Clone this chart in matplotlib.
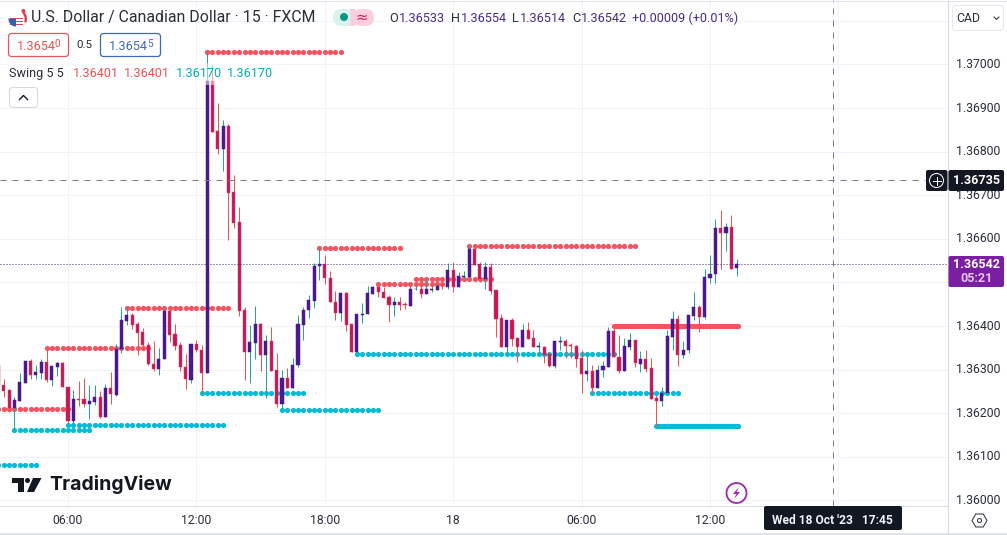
import numpy as np
import matplotlib
matplotlib.use("Agg")
import matplotlib.pyplot as plt
from matplotlib.patches import Circle, FancyBboxPatch, Polygon, Rectangle, RegularPolygon, Wedge

# USDCAD 15m, first value is bar -13, bar 0 is the 06:00 candle
first_bar = -13
opens = [1.36311, 1.36265, 1.36253, 1.36211, 1.36229, 1.36270, 1.36320, 1.36288, 1.36293, 1.36318, 1.36276, 1.36307, 1.36315,
         1.36261, 1.36182, 1.36233, 1.36232, 1.36221, 1.36226, 1.36237, 1.36192, 1.36258, 1.36243, 1.36347, 1.36412, 1.36425,
         1.36404, 1.36386, 1.36357, 1.36312, 1.36302, 1.36324, 1.36435, 1.36381, 1.36356, 1.36307, 1.36276, 1.36358, 1.36344,
         1.36293, 1.36962, 1.36847, 1.36805, 1.36859, 1.36708, 1.36638, 1.36437, 1.36341, 1.36362, 1.36405, 1.36334, 1.36365,
         1.36299, 1.36221, 1.36280, 1.36259, 1.36310, 1.36403, 1.36436, 1.36458, 1.36537, 1.36542, 1.36510, 1.36455, 1.36431,
         1.36475, 1.36404, 1.36341, 1.36425, 1.36427, 1.36474, 1.36490, 1.36478, 1.36466, 1.36449, 1.36455, 1.36450, 1.36447,
         1.36484, 1.36484, 1.36474, 1.36483, 1.36483, 1.36492, 1.36490, 1.36528, 1.36490, 1.36513, 1.36513, 1.36576, 1.36542,
         1.36507, 1.36535, 1.36482, 1.36418, 1.36353, 1.36413, 1.36372, 1.36353, 1.36390, 1.36372, 1.36352, 1.36353, 1.36335,
         1.36308, 1.36364, 1.36365, 1.36355, 1.36355, 1.36327, 1.36291, 1.36296, 1.36259, 1.36299, 1.36307, 1.36388, 1.36328,
         1.36297, 1.36353, 1.36368, 1.36314, 1.36324, 1.36303, 1.36234, 1.36229, 1.36246, 1.36376, 1.36416, 1.36334, 1.36344,
         1.36424, 1.36443, 1.36420, 1.36511, 1.36519, 1.36624, 1.36614, 1.36627, 1.36533]
highs = [1.36313, 1.36279, 1.36255, 1.36238, 1.36293, 1.36320, 1.36324, 1.36311, 1.36324, 1.36349, 1.36308, 1.36318, 1.36317,
         1.36261, 1.36253, 1.36274, 1.36282, 1.36265, 1.36265, 1.36250, 1.36267, 1.36295, 1.36359, 1.36443, 1.36443, 1.36429,
         1.36409, 1.36395, 1.36364, 1.36365, 1.36349, 1.36441, 1.36441, 1.36404, 1.36364, 1.36337, 1.36359, 1.36368, 1.36356,
         1.37028, 1.36999, 1.36912, 1.36873, 1.36864, 1.36747, 1.36674, 1.36444, 1.36402, 1.36446, 1.36408, 1.36379, 1.36399,
         1.36338, 1.36299, 1.36303, 1.36326, 1.36425, 1.36443, 1.36471, 1.36545, 1.36578, 1.36563, 1.36527, 1.36481, 1.36475,
         1.36477, 1.36404, 1.36427, 1.36452, 1.36492, 1.36492, 1.36498, 1.36490, 1.36471, 1.36467, 1.36467, 1.36456, 1.36492,
         1.36494, 1.36513, 1.36510, 1.36493, 1.36498, 1.36498, 1.36544, 1.36546, 1.36524, 1.36526, 1.36584, 1.36576, 1.36548,
         1.36546, 1.36544, 1.36482, 1.36427, 1.36413, 1.36418, 1.36376, 1.36404, 1.36409, 1.36390, 1.36364, 1.36354, 1.36341,
         1.36365, 1.36377, 1.36370, 1.36361, 1.36357, 1.36344, 1.36338, 1.36310, 1.36311, 1.36321, 1.36399, 1.36402, 1.36380,
         1.36372, 1.36383, 1.36368, 1.36343, 1.36345, 1.36326, 1.36242, 1.36261, 1.36391, 1.36435, 1.36425, 1.36366, 1.36425,
         1.36478, 1.36448, 1.36530, 1.36563, 1.36645, 1.36666, 1.36636, 1.36655, 1.36554]
lows = [1.36261, 1.36238, 1.36204, 1.36162, 1.36229, 1.36270, 1.36279, 1.36278, 1.36279, 1.36271, 1.36263, 1.36286, 1.36260,
        1.36177, 1.36178, 1.36217, 1.36214, 1.36187, 1.36219, 1.36188, 1.36192, 1.36221, 1.36240, 1.36339, 1.36403, 1.36393,
        1.36334, 1.36345, 1.36310, 1.36297, 1.36288, 1.36324, 1.36364, 1.36345, 1.36298, 1.36255, 1.36270, 1.36341, 1.36247,
        1.36293, 1.36846, 1.36795, 1.36756, 1.36597, 1.36626, 1.36423, 1.36276, 1.36270, 1.36324, 1.36298, 1.36236, 1.36298,
        1.36215, 1.36212, 1.36257, 1.36259, 1.36305, 1.36368, 1.36419, 1.36442, 1.36506, 1.36496, 1.36455, 1.36414, 1.36412,
        1.36389, 1.36341, 1.36341, 1.36406, 1.36427, 1.36474, 1.36467, 1.36464, 1.36409, 1.36423, 1.36437, 1.36439, 1.36447,
        1.36483, 1.36464, 1.36474, 1.36479, 1.36483, 1.36484, 1.36485, 1.36477, 1.36490, 1.36506, 1.36513, 1.36541, 1.36502,
        1.36485, 1.36473, 1.36374, 1.36353, 1.36341, 1.36354, 1.36318, 1.36353, 1.36370, 1.36353, 1.36339, 1.36315, 1.36307,
        1.36303, 1.36344, 1.36327, 1.36327, 1.36305, 1.36247, 1.36275, 1.36246, 1.36259, 1.36284, 1.36307, 1.36328, 1.36293,
        1.36297, 1.36344, 1.36305, 1.36295, 1.36295, 1.36233, 1.36169, 1.36217, 1.36246, 1.36344, 1.36309, 1.36327, 1.36339,
        1.36414, 1.36387, 1.36416, 1.36498, 1.36498, 1.36531, 1.36573, 1.36532, 1.36514]
closes = [1.36265, 1.36252, 1.36211, 1.36231, 1.36272, 1.36320, 1.36288, 1.36295, 1.36318, 1.36276, 1.36308, 1.36315, 1.36261,
          1.36182, 1.36232, 1.36231, 1.36221, 1.36227, 1.36237, 1.36191, 1.36258, 1.36245, 1.36347, 1.36413, 1.36425, 1.36403,
          1.36385, 1.36357, 1.36312, 1.36302, 1.36324, 1.36435, 1.36380, 1.36355, 1.36307, 1.36278, 1.36359, 1.36344, 1.36293,
          1.36962, 1.36846, 1.36805, 1.36859, 1.36706, 1.36637, 1.36435, 1.36341, 1.36363, 1.36405, 1.36334, 1.36365, 1.36298,
          1.36221, 1.36280, 1.36259, 1.36310, 1.36404, 1.36436, 1.36459, 1.36538, 1.36542, 1.36510, 1.36455, 1.36431, 1.36475,
          1.36403, 1.36341, 1.36427, 1.36427, 1.36475, 1.36490, 1.36477, 1.36464, 1.36449, 1.36455, 1.36449, 1.36448, 1.36485,
          1.36485, 1.36474, 1.36485, 1.36484, 1.36492, 1.36491, 1.36528, 1.36490, 1.36514, 1.36514, 1.36577, 1.36541, 1.36507,
          1.36536, 1.36480, 1.36417, 1.36353, 1.36413, 1.36371, 1.36353, 1.36390, 1.36371, 1.36353, 1.36353, 1.36334, 1.36308,
          1.36365, 1.36365, 1.36355, 1.36354, 1.36325, 1.36291, 1.36296, 1.36259, 1.36299, 1.36308, 1.36388, 1.36328, 1.36298,
          1.36354, 1.36368, 1.36315, 1.36324, 1.36302, 1.36233, 1.36229, 1.36246, 1.36377, 1.36416, 1.36334, 1.36344, 1.36425,
          1.36443, 1.36420, 1.36512, 1.36519, 1.36624, 1.36614, 1.36627, 1.36532, 1.36542]

# swing levels: price, first bar, last bar
swing_high_levels = [1.36209, 1.36349, 1.36441, 1.37028, 1.36578, 1.36497, 1.36507, 1.36584]
swing_high_start = [-13, -4, 11, 26, 47, 58, 65, 75]
swing_high_end = [0, 15, 30, 51, 62, 70, 79, 106]
swing_low_levels = [1.36081, 1.36161, 1.36172, 1.36246, 1.36207, 1.36335, 1.36246]
swing_low_start = [-13, -10, 0, 25, 40, 54, 98]
swing_low_end = [-6, 4, 29, 44, 58, 102, 114]
# last levels still running, drawn almost solid
live_high = (1.36401, 102, 125)
live_low = (1.36170, 110, 125)

price_ticks = [1.36, 1.361, 1.362, 1.363, 1.364, 1.365, 1.366, 1.367, 1.368, 1.369, 1.37, 1.371]
price_labels = {1.36: "1.36000", 1.361: "1.36100", 1.362: "1.36200", 1.363: "1.36300", 1.364: "1.36400",
                1.366: "1.36600", 1.367: "1.36700", 1.368: "1.36800", 1.369: "1.36900", 1.37: "1.37000"}
time_ticks = [0, 24, 48, 72, 96, 120, 144]
time_labels = ["06:00", "12:00", "18:00", "18", "06:00", "12:00"]
last_price = 1.36542
cross_price = 1.36735
cross_bar = 143

UP = "#4a1a8c"
DOWN = "#c2185b"
WICK_UP = "#26a69a"
WICK_DOWN = "#ef5350"
RED = "#f7525f"
TEAL = "#00bcd4"
GRID = "#f0f3fa"
LINE = "#d6dae2"
DARK = "#131722"
FONT = "Roboto"
PX = 0.72  # one pixel line

plt.rcParams["font.family"] = FONT

fig = plt.figure(figsize=(10.07, 5.35), dpi=100)
W, H = 1007.0, 535.0
ax = fig.add_axes([0, 1 - 506 / H, 947.5 / W, 506 / H])
ax.set_xlim(-12.71, 164.4)
ax.set_ylim(1.359873, 1.371479)
for side in ax.spines:
    ax.spines[side].set_visible(False)
ax.set_xticks([])
ax.set_yticks([])

for p in price_ticks:
    ax.axhline(p, color=GRID, lw=PX, zorder=0)
for t in time_ticks:
    ax.axvline(t, color=GRID, lw=PX, zorder=0)

# swing dots
for level, a, b in zip(swing_high_levels, swing_high_start, swing_high_end):
    xs = np.arange(a, b + 1)
    ax.scatter(xs, [level] * len(xs), s=14, color=RED, lw=0, zorder=2)
for level, a, b in zip(swing_low_levels, swing_low_start, swing_low_end):
    xs = np.arange(a, b + 1)
    ax.scatter(xs, [level] * len(xs), s=14, color=TEAL, lw=0, zorder=2)
for (level, a, b), color in ((live_high, RED), (live_low, TEAL)):
    xs = np.arange(a, b + 0.5, 0.25)
    ax.scatter(xs, [level] * len(xs), s=14, color=color, lw=0, zorder=2)

# candles
bars = np.arange(first_bar, first_bar + len(closes))
for i, o, h, l, c in zip(bars, opens, highs, lows, closes):
    rising = c >= o
    ax.vlines(i, l, h, color=WICK_UP if rising else WICK_DOWN, lw=PX, zorder=3)
    ax.bar(i, max(abs(c - o), 0.00002), bottom=min(o, c), width=0.58,
           color=UP if rising else DOWN, edgecolor=UP if rising else "#e0405f", lw=0.35, zorder=4)

ax.axhline(last_price, color="#3d2b6b", lw=PX, ls=(0, (1, 2)), zorder=5)
ax.plot([-12.71, 160.2], [cross_price, cross_price], color="#787b86", lw=PX, ls=(0, (6, 6)), zorder=5)
ax.axvline(cross_bar, color="#787b86", lw=PX, ls=(0, (6, 6)), zorder=5)

# everything around the plot in pixel coordinates
ui = fig.add_axes([0, 0, 1, 1], zorder=10)
ui.set_xlim(0, W)
ui.set_ylim(H, 0)
ui.axis("off")
ui.patch.set_alpha(0)


def label(x, y, s, size=12, color=DARK, ha="left", weight="normal", font=None):
    return ui.text(x, y, s, fontsize=size * 0.72, color=color, ha=ha, va="center", fontweight=weight,
                   family=font or FONT)


def box(x0, y0, x1, y1, face="white", edge="none", lw=PX, r=2, alpha=None, z=2):
    p = FancyBboxPatch((x0 + r, y0 + r), x1 - x0 - 2 * r, y1 - y0 - 2 * r, boxstyle="round,pad=%g,rounding_size=%g" % (r, r),
                       fc=face, ec=edge, lw=lw, alpha=alpha, zorder=z)
    ui.add_patch(p)
    return p


# frame and scales
ui.plot([0, 948], [506, 506], color=LINE, lw=PX)
ui.plot([948, 948], [0, 535], color=LINE, lw=PX)
ui.plot([0, W], [0.5, 0.5], color="#e0e3eb", lw=PX)
ui.plot([0, W], [533.5, 533.5], color="#d6dae2", lw=1.1)
ui.add_patch(Rectangle((948.5, 0.5), 58, 505, fc="white", ec="none", zorder=0.5))

for p, s in price_labels.items():
    _, py = ax.transData.transform((0, p))
    label(978, H - py, s, size=12.3, color="#2a2e39", ha="center")
for t, s in zip(time_ticks, time_labels):
    px, _ = ax.transData.transform((t, 1.36))
    label(px, 520, s, size=12.3, color="#2a2e39", ha="center")

# header
ui.add_patch(Circle((16, 19), 7.5, fc="white", ec="none", zorder=3))
for yy in (17.5, 20.5, 23.5):
    ui.add_patch(Wedge((16, 19), 7.5, 0, 360, fc="none", ec="none", zorder=3))
    ui.add_patch(Rectangle((9.5, yy), 13, 1.8, fc="#e0454f", ec="none", zorder=4))
ui.add_patch(Wedge((16, 19), 7.5, 90, 185, fc="#3f5cb0", ec="none", zorder=5))
ui.add_patch(Wedge((16, 19), 11, 315, 20, width=2.4, fc="#e5404a", ec="none", zorder=5))
ui.add_patch(Circle((23.5, 11), 2, fc="#e5404a", ec="none", zorder=5))
label(31, 17.5, "U.S. Dollar / Canadian Dollar · 15 · FXCM", size=15.9, color="#2a2e39")

box(333, 9, 358, 26, face="#d9f2ee", r=8)
box(353, 9, 374, 26, face="#fbd0dd", r=8)
ui.add_patch(Rectangle((350, 9), 5, 17, fc="#fbd0dd", ec="none", zorder=2))
ui.add_patch(Circle((344, 17), 4, fc="#089981", ec="none", zorder=3))
label(362, 17, "≈", size=15, color="#d81b60", ha="center", font="DejaVu Sans")

ohlc_x = [389, 451, 512, 572, 632]
ohlc_letters = ["O", "H", "L", "C", ""]
ohlc_values = ["1.36533", "1.36554", "1.36514", "1.36542", "+0.00009 (+0.01%)"]
letter_w = [10, 10, 7.5, 9, 0]
for x, a, v, dx in zip(ohlc_x, ohlc_letters, ohlc_values, letter_w):
    label(x, 18, a, size=12.6, color="#2a2e39")
    label(x + dx, 18, v, size=12.6, color="#4a2a86")

box(8.5, 33.5, 68.5, 56.5, edge="#e0575f", lw=0.9, r=3)
label(16.5, 46, "1.3654", size=12.6, color="#ef5350")
label(54.5, 44, "0", size=10, color="#ef5350")
label(84.5, 45, "0.5", size=11.5, color="#2a2e39", ha="center")
box(100.5, 33.5, 160.5, 56.5, edge="#3f6ab8", lw=0.9, r=3)
label(109, 46, "1.3654", size=12.6, color="#3f6ab8")
label(147.5, 44, "5", size=10, color="#3f6ab8")

ui.add_patch(Rectangle((6, 63), 270, 22, fc="white", ec="none", alpha=0.5, zorder=1))
label(9, 73.5, "Swing 5 5", size=12.6, color="#2a2e39")
label(73, 73.5, "1.36401", size=12.6, color="#ef5350")
label(124, 73.5, "1.36401", size=12.6, color="#ef5350")
label(176, 73.5, "1.36170", size=12.6, color="#00acc1")
label(227, 73.5, "1.36170", size=12.6, color="#00acc1")

box(9.5, 87.5, 37.5, 107.5, edge="#d6d8de", lw=PX, r=3)
ui.plot([19.5, 23.5, 27.5], [99.5, 95.5, 99.5], color=DARK, lw=1, zorder=3)

# price scale widgets
box(952.5, 5.5, 1003.5, 30.5, edge="#e6e8ee", lw=PX, r=4)
label(956, 18, "CAD", size=12.3, color="#2a2e39")
ui.plot([994, 996.5, 999], [17, 19.5, 17], color="#2a2e39", lw=PX, zorder=3)

box(926, 170, 947.5, 191, face=DARK, r=2)
ui.add_patch(Circle((936.5, 180.5), 7, fc="none", ec="white", lw=PX, zorder=3))
ui.plot([932.5, 940.5], [180.5, 180.5], color="white", lw=PX, zorder=4)
ui.plot([936.5, 936.5], [176.5, 184.5], color="white", lw=PX, zorder=4)
box(948.5, 170, 1004, 191, face=DARK, r=2)
label(977, 180.5, "1.36735", size=12.6, color="white", ha="center", weight="bold")

box(948.5, 256, 1004, 287, face="#7b1fa2", r=2)
label(977, 265, "1.36542", size=12.6, color="white", ha="center", weight="bold")
label(977, 278, "05:21", size=12.6, color="#e3c4ee", ha="center", weight="bold")

box(764, 506, 902, 530, face=DARK, r=2)
label(832.5, 520, "Wed 18 Oct '23   17:45", size=12, color="#f0f3fa", ha="center", weight="bold")

ui.add_patch(RegularPolygon((979.5, 520.5), 6, radius=7.5, orientation=np.pi / 6, fc="none", ec="#2a2e39", lw=PX, zorder=3))
ui.add_patch(Circle((979.5, 520.5), 2, fc="none", ec="#2a2e39", lw=PX, zorder=3))

# logo and lightning
ui.add_patch(Polygon([(12, 478), (24, 478), (24, 492), (18, 492), (18, 483), (12, 483)], fc=DARK, ec="none", zorder=3))
ui.add_patch(Circle((27.5, 480.5), 2.5, fc=DARK, ec="none", zorder=3))
ui.add_patch(Polygon([(33, 478), (41.5, 478), (34, 492), (27, 492)], fc=DARK, ec="none", zorder=3))
label(49, 485, "TradingView", size=19.5, color=DARK, weight="bold", font="Inter")

ui.add_patch(Circle((736.5, 493), 10, fc="white", ec="#9c27b0", lw=1.3, zorder=3))
ui.add_patch(Polygon([(739, 487), (733, 494), (736.5, 494), (734, 499), (740, 492), (736.5, 492)], fc="#9c27b0", ec="none", zorder=4))

fig.savefig("out.png", dpi=100)
